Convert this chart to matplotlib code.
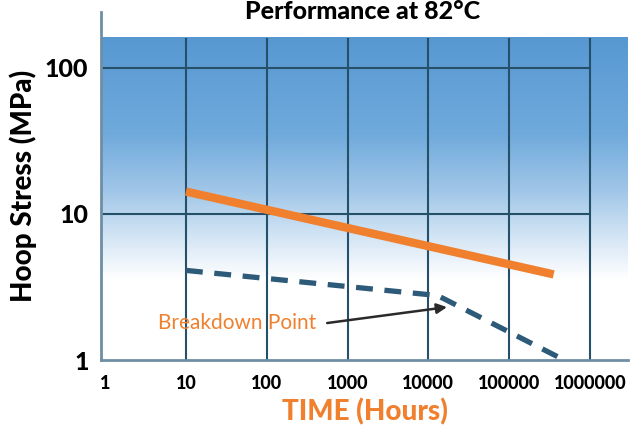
import matplotlib.pyplot as plt
import numpy as np
from matplotlib.colors import LinearSegmentedColormap

# chart data
x_ticks = [1, 10, 100, 1000, 10000, 100000, 1000000]
x_ticklabels = ['1', '10', '100', '1000', '10000', '100000', '1000000']
y_ticks = [1, 10, 100]
y_ticklabels = ['1', '10', '100']
grid_x = [10, 100, 1000, 10000, 100000, 1000000]
grid_y = [10, 100]

pe_time = [10, 355000]
pe_stress = [14.2, 3.85]
other_time = [10, 13000, 430000]
other_stress = [4.1, 2.76, 1.03]

breakdown_label = 'Breakdown Point'
breakdown_text_xy = (43, 1.79)
arrow_start = (560, 1.79)
arrow_tip = (17000, 2.3)

plt.rcParams['font.family'] = ['Lato', 'DejaVu Sans']

ORANGE = '#f0802e'
GRID = '#24506a'
SPINE = '#6f8ea4'
YTOP = 2.38

fig = plt.figure(figsize=(6.4, 4.33), dpi=100)
ax = fig.add_axes([101 / 640, 73 / 433, 527 / 640, 348 / 433])
ax.set_xscale('log')
ax.set_yscale('log')
ax.set_xlim(0.89, 10 ** 6.47)
ax.set_ylim(1, 10 ** YTOP)

# blue gradient panel
blue_top = 10 ** (2 + 30 / 146)
top_frac = np.log10(blue_top) / YTOP
cmap = LinearSegmentedColormap.from_list('bg', [
    (0.0, '#ffffff'),
    (0.25, '#ffffff'),
    (0.40, '#cde1f3'),
    (0.52, '#a2c7e8'),
    (0.70, '#70aadc'),
    (1.0, '#5798d2'),
])
grad = np.linspace(0, 1, 256).reshape(-1, 1)
ax.imshow(grad, extent=[0, 1, 0, top_frac], transform=ax.transAxes,
          aspect='auto', cmap=cmap, origin='lower', zorder=0)

# grid
ax.vlines(grid_x, 1, blue_top, color=GRID, lw=1.5, zorder=1)
ax.hlines(grid_y, ax.get_xlim()[0], grid_x[-1], color=GRID, lw=1.5, zorder=1)

# series
ax.plot(pe_time, pe_stress, color=ORANGE, lw=6, solid_capstyle='butt', zorder=3)
ax.plot(other_time, other_stress, color='#2c5a78', lw=3.8, ls=(0, (3.2, 2.2)),
        zorder=3)

ax.text(*breakdown_text_xy, breakdown_label, color=ORANGE, fontsize=15,
        va='center', ha='center')
ax.annotate('', xy=arrow_tip, xytext=arrow_start,
            arrowprops=dict(arrowstyle='-|>', color='#2a2a2a', lw=1.8,
                            mutation_scale=15, shrinkA=0, shrinkB=0))

for s in ['top', 'right']:
    ax.spines[s].set_visible(False)
for s in ['left', 'bottom']:
    ax.spines[s].set_color(SPINE)
    ax.spines[s].set_linewidth(2)

ax.set_xticks(x_ticks)
ax.set_xticklabels(x_ticklabels, fontsize=13, fontweight='black')
ax.set_yticks(y_ticks)
ax.set_yticklabels(y_ticklabels, fontsize=18, fontweight='black')
ax.minorticks_off()
ax.tick_params(length=0, pad=11)
ax.tick_params(axis='y', pad=9)

ax.set_xlabel('TIME (Hours)', color=ORANGE, fontsize=20, fontweight='black',
              labelpad=4)
ax.set_ylabel('Hoop Stress (MPa)', fontsize=20, fontweight='black', labelpad=6)
fig.text(363 / 640, 1 - 19 / 433, 'Performance at 82\u00b0C', ha='center',
         va='baseline', fontsize=18, fontweight='black')

fig.savefig('out.png', dpi=100)
